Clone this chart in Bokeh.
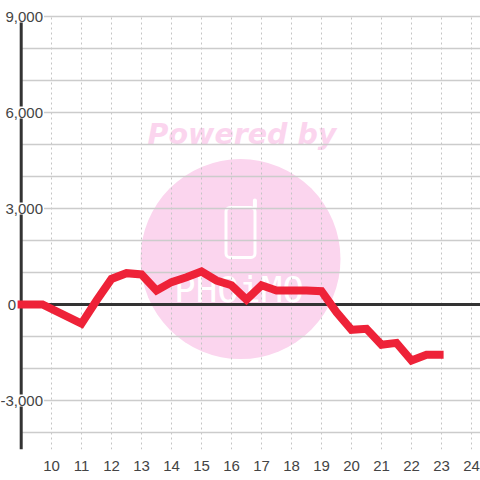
from bokeh.plotting import figure
from bokeh.embed import file_html
from bokeh.resources import INLINE
from bokeh.models import Range1d, LinearAxis, FixedTicker, ColumnDataSource
from bokeh.core.properties import value

hours = [8.87, 9.7, 11, 11.5, 12, 12.5, 13, 13.5, 14, 14.5, 15, 15.5, 16, 16.5, 17, 17.5,
         18, 18.5, 19, 19.5, 20, 20.5, 21, 21.5, 22, 22.5, 23.07]
values = [0, 0, -600, 125, 800, 980, 940, 440, 700, 850, 1030, 750, 600, 150, 600, 440,
          440, 440, 415, -240, -790, -760, -1260, -1200, -1750, -1570, -1570]
x_ticks = list(range(10, 25))
y_labelled = [9000, 6000, 3000, 0, -3000]
y_labels = ["9,000", "6,000", "3,000", "0", "-3,000"]
y_label_hours = [9.75, 9.75, 9.75, 8.85, 9.75]
y_grid = [9000, 8000, 7000, 6000, 5000, 4000, 3000, 2000, 1000, -1000, -2000, -3000, -4000]

X0, X1 = 8.3, 24.3
Y0, Y1 = -4531, 9500
GRID = "#cccccc"
DARK = "#333333"
PINK = "#fbd5ee"
RED = "#ee2238"
TICK = "#444444"

p = figure(width=480, height=480, output_backend="svg", toolbar_location=None,
           x_range=Range1d(X0, X1), y_range=Range1d(Y0, Y1), x_axis_location=None, y_axis_location=None,
           min_border_left=0, min_border_right=0, min_border_top=0, min_border_bottom=31,
           outline_line_color=None, background_fill_color="white")
p.grid.visible = False

ax = LinearAxis(ticker=FixedTicker(ticks=x_ticks), axis_line_color=None, major_tick_line_color=None,
                minor_tick_line_color=None, major_label_text_font="Liberation Sans",
                major_label_text_font_size="15px", major_label_text_color=TICK, major_label_standoff=5)
p.add_layout(ax, "below")

# watermark
p.circle([16.3], [1420], radius=100 / 30, fill_color=PINK, line_color=None)
p.text([16.35], [5320], text=["Powered by"], text_font=value("DejaVu Sans"), text_font_style="bold italic",
       text_font_size="28.5px", text_color=PINK, text_align="center", text_baseline="middle")
p.text([16.25], [470], text=["PHOiMO"], text_font=value("DejaVu Sans Mono"), text_font_size="36px",
       text_color="white", text_align="center", text_baseline="middle")
p.rect([16.3], [2250], width=29 / 30, height=1560, fill_color=None, line_color="white", line_width=3,
       border_radius=4)
p.line([16.78, 16.78], [3030, 3250], line_color="white", line_width=4, line_cap="round")

# grid
p.segment(x_ticks, [Y0] * len(x_ticks), x_ticks, [9000] * len(x_ticks), line_color="#c4c4c4", line_width=1, line_dash="2 3")
p.segment([9] * len(y_grid), y_grid, [X1] * len(y_grid), y_grid, line_color=GRID, line_width=1.3)

# axis lines
p.segment([8.99], [Y0], [8.99], [9000], line_color=DARK, line_width=3)
p.segment([9], [0], [X1], [0], line_color=DARK, line_width=3)

# y tick labels, white box hides what lies behind them
src = ColumnDataSource(dict(x=y_label_hours, y=y_labelled, t=y_labels))
p.text("x", "y", text="t", source=src, text_font=value("Liberation Sans"), text_font_size="15px",
       text_color=TICK, text_align="right", text_baseline="middle", background_fill_color="white",
       padding=1)

p.line(hours, values, line_color=RED, line_width=8, line_join="miter", line_cap="butt")

open("out.html", "w").write(file_html(p, INLINE))
